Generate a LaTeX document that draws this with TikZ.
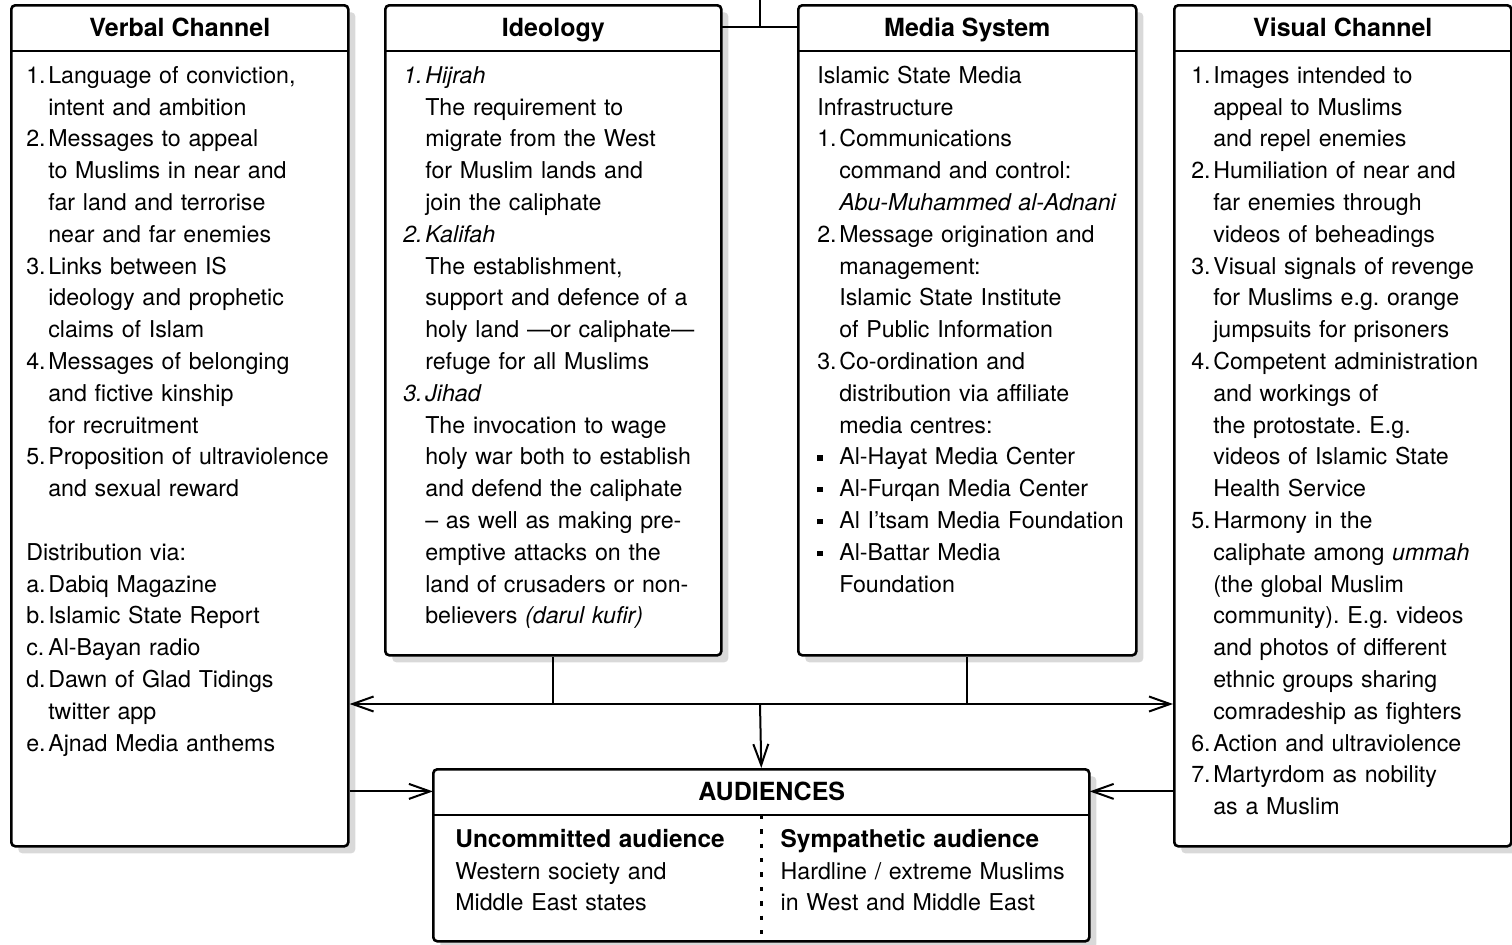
\documentclass[tikz,border=0pt]{standalone}
\usepackage{fontspec}
\setmainfont{TeX Gyre Heros}
\usetikzlibrary{positioning}
\usetikzlibrary{arrows.meta}
\usetikzlibrary{shadows}
\setlength{\parindent}{0pt}
\frenchspacing
\newlength{\numw}
\setlength{\numw}{11pt}
\newcommand{\itm}[2]{\hangindent=\numw\hangafter=1\noindent\makebox[\numw][l]{\strut#1}#2\par}
\newcommand{\bul}{\rule[2.1pt]{2.6pt}{2.6pt}}

\begin{document}
\begin{tikzpicture}[x=0.5pt, y=-0.5pt,
    frame/.style={draw, line width=1.3pt, rounded corners=2pt, fill=white, anchor=north west, inner sep=0pt,
        drop shadow={shadow xshift=3.5pt, shadow yshift=-3.5pt, fill=black!15, opacity=1}},
    boxtitle/.style={anchor=north, inner sep=0pt, minimum height=23pt, text height=8.9pt, text depth=0pt,
        font=\fontsize{12.5}{14}\selectfont\bfseries},
    boxtext/.style={inner sep=0pt, text width=180pt, align=left, font=\fontsize{11.6}{15.9}\selectfont},
    rule/.style={line width=1.3pt},
    link/.style={line width=1pt},
    arr/.style={line width=1pt, -{Straight Barb[length=10.5pt, width=7.5pt, line width=1pt]}}]
    \useasboundingbox (0,0) rectangle (1512,944);

    % the four boxes
    \node[frame, minimum width=168.5pt, minimum height=420.5pt] (verbal) at (10,4) {};
    \node[frame, minimum width=168pt, minimum height=325pt] (ideology) at (384,4) {};
    \node[frame, minimum width=169pt, minimum height=325pt] (media) at (797,4) {};
    \node[frame, minimum width=168.5pt, minimum height=420.5pt] (visual) at (1173,4) {};
    \node[frame, minimum width=328pt, minimum height=86pt] (audiences) at (432,768) {};

    \node[boxtitle, minimum width=168.5pt] (verbal title) at (verbal.north) {Verbal Channel};
    \node[boxtitle, minimum width=168pt] (ideology title) at (ideology.north) {Ideology};
    \node[boxtitle, minimum width=169pt] (media title) at (media.north) {Media System};
    \node[boxtitle, minimum width=168.5pt] (visual title) at (visual.north) {Visual Channel};
    \node[boxtitle, minimum width=328pt] (aud title) at (audiences.north) {\hspace*{10.5pt}AUDIENCES};

    \foreach \b in {verbal, ideology, media, visual, aud} {
        \draw[rule] (\b\space title.south west) -- (\b\space title.south east);
    }

    % box texts
    \node[boxtext, below right=4.9pt and 7.5pt of verbal title.south west] (verbal text) {%
        \itm{1.}{Language of conviction,\newline intent and ambition}
        \itm{2.}{Messages to appeal\newline to Muslims in near and\newline far land and terrorise\newline near and far enemies}
        \itm{3.}{Links between IS\newline ideology and prophetic\newline claims of Islam}
        \itm{4.}{Messages of belonging\newline and fictive kinship\newline for recruitment}
        \itm{5.}{Proposition of ultraviolence\newline and sexual reward}
        \vspace{15.9pt}
        \noindent\strut Distribution via:\par
        \itm{a.}{Dabiq Magazine}
        \itm{b.}{Islamic State Report}
        \itm{c.}{Al-Bayan radio}
        \itm{d.}{Dawn of Glad Tidings\newline twitter app}
        \itm{e.}{Ajnad Media anthems}};
    \node[boxtext, below right=4.9pt and 9pt of ideology title.south west] (ideology text) {%
        \itm{\textit{1.}}{\textit{Hijrah}\newline The requirement to\newline migrate from the West\newline for Muslim lands and\newline join the caliphate}
        \itm{\textit{2.}}{\textit{Kalifah}\newline The establishment,\newline support and defence of a\newline holy land ---or caliphate---\newline refuge for all Muslims}
        \itm{\textit{3.}}{\textit{Jihad}\newline The invocation to wage\newline holy war both to establish\newline and defend the caliphate\newline -- as well as making pre-\newline emptive attacks on the\newline land of crusaders or non-\newline believers \textit{(darul kufir)}}};
    \node[boxtext, below right=4.9pt and 9.5pt of media title.south west] (media text) {%
        \noindent\strut Islamic State Media\newline Infrastructure\par
        \itm{1.}{Communications\newline command and control:\newline \textit{Abu-Muhammed al-Adnani}}
        \itm{2.}{Message origination and\newline management:\newline Islamic State Institute\newline of Public Information}
        \itm{3.}{Co-ordination and\newline distribution via affiliate\newline media centres:}
        \itm{\bul}{Al-Hayat Media Center}
        \itm{\bul}{Al-Furqan Media Center}
        \itm{\bul}{Al I’tsam Media Foundation}
        \itm{\bul}{Al-Battar Media\newline Foundation}};
    \node[boxtext, below right=4.9pt and 8.5pt of visual title.south west] (visual text) {%
        \itm{1.}{Images intended to\newline appeal to Muslims\newline and repel enemies}
        \itm{2.}{Humiliation of near and\newline far enemies through\newline videos of beheadings}
        \itm{3.}{Visual signals of revenge\newline for Muslims e.g. orange\newline jumpsuits for prisoners}
        \itm{4.}{Competent administration\newline and workings of\newline the protostate. E.g.\newline videos of Islamic State\newline Health Service}
        \itm{5.}{Harmony in the\newline caliphate among \textit{ummah}\newline (the global Muslim\newline community). E.g. videos\newline and photos of different\newline ethnic groups sharing\newline comradeship as fighters}
        \itm{6.}{Action and ultraviolence}
        \itm{7.}{Martyrdom as nobility\newline as a Muslim}};

    % audiences
    \draw[link, line width=1.2pt, dash pattern=on 2.2pt off 5pt] (aud title.south) -- (audiences.south);
    \node[boxtext, below right=4.9pt and 11pt of aud title.south west] (uncommitted) {%
        \noindent\strut{\fontsize{12.2}{15.9}\selectfont\bfseries Uncommitted audience}\newline Western society and\newline Middle East states};
    \node[boxtext, below right=4.9pt and 9.5pt of aud title.south] (sympathetic) {%
        \noindent\strut{\fontsize{12.2}{15.9}\selectfont\bfseries Sympathetic audience}\newline Hardline / extreme Muslims\newline in West and Middle East};

    % connectors
    \coordinate (top) at (760,0);
    \coordinate (hub) at (760,704);
    \draw[link] (top) -- (top |- ideology title.east);
    \draw[link] (ideology title.east) -- (media title.west);
    \draw[link] (ideology.south) -- (ideology.south |- hub);
    \draw[link] (media.south) -- (media.south |- hub);
    \draw[arr] (hub) -- (hub -| verbal.east);
    \draw[arr] (hub) -- (hub -| visual.west);
    \draw[arr] (hub) -- (audiences.north);
    \draw[arr] (aud title.west -| verbal.east) -- (aud title.west);
    \draw[arr] (aud title.east -| visual.west) -- (aud title.east);
\end{tikzpicture}
\end{document}
